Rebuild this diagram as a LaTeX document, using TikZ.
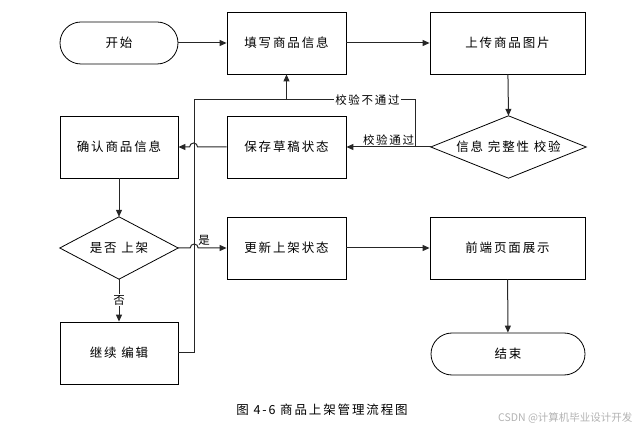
\documentclass[tikz,border=0pt]{standalone}
\usepackage{fontspec}
\setmainfont{Noto Sans CJK SC}[LetterSpace=15]
\newfontfamily\wmfont{Noto Sans CJK SC}
\usetikzlibrary{arrows.meta,calc}
\begin{document}
\begin{tikzpicture}[x=1pt,y=-1pt,
  box/.style={draw=black,line width=0.8pt,minimum height=62pt,inner sep=0pt,font=\fontsize{12.5}{14}\selectfont},
  term/.style={box,rounded corners=21pt,minimum height=42pt},
  dia/.style={minimum height=62pt,inner sep=0pt,font=\fontsize{12.5}{14}\selectfont},
  ln/.style={draw=black!85,line width=1pt},
  arr/.style={ln,-{Triangle[length=7pt,width=6pt]}},
  lab/.style={font=\fontsize{11.5}{13}\selectfont,inner sep=1pt}]
\useasboundingbox (0,0) rectangle (640,430);
\node[term,minimum width=118pt] (start) at (119,43) {开始};
\node[box,minimum width=119pt] (fill) at (286.5,43) {填写商品信息};
\node[box,minimum width=155pt] (upload) at (507.5,43) {上传商品图片};
\node[dia,minimum width=155pt] (check) at (508.5,147) {信息 完整性 校验};
\draw[line width=0.8pt] (check.north) -- (check.east) -- (check.south) -- (check.west) -- cycle;
\node[box,minimum width=119pt] (draft) at (286.5,147) {保存草稿状态};
\node[box,minimum width=118pt] (confirm) at (119,147) {确认商品信息};
\node[dia,minimum width=118pt] (dec) at (119,248) {是否 上架};
\draw[line width=0.8pt] (dec.north) -- (dec.east) -- (dec.south) -- (dec.west) -- cycle;
\node[box,minimum width=119pt] (upd) at (286.5,248) {更新上架状态};
\node[box,minimum width=155pt] (front) at (507.5,248) {前端页面展示};
\node[box,minimum width=118pt] (cont) at (119,353) {继续 编辑};
\node[term,minimum width=154pt] (end) at (508,354) {结束};
\coordinate (j1) at (415,147);
\coordinate (j2) at (415,100);
\coordinate (j3) at (286.5,100);
\coordinate (j4) at (194,100);
\coordinate (j5) at (194,353);
\draw[arr] (start) -- (fill);
\draw[arr] (fill) -- (upload);
\draw[arr] (upload) -- (check.north);
\draw[arr] (check.west) -- node[lab,above,pos=0.5] {校验通过} (draft.east);
\draw[ln] (j1) -- (j2) -- node[lab,fill=white,pos=0.37] {校验不通过} (j3);
\draw[arr] (j3) -- (fill.south);
\draw[ln] (cont.east) -- (j5) -- (j4) -- (j3);
\draw[arr] (draft.west) -- ++(-29,0) arc[start angle=0,end angle=180,radius=4pt] -- (confirm.east);
\draw[arr] (dec.east) -- ++(12,0) arc[start angle=180,end angle=0,radius=4pt] -- (upd.west);
\node[lab] (yes) at (204,240) {是};
\draw[arr] (confirm) -- (dec.north);
\draw[arr] (dec.south) -- node[lab,fill=white,pos=0.5] {否} (cont);
\draw[arr] (upd) -- (front);
\draw[arr] (front) -- (end);
\node[font=\fontsize{12.5}{14}\selectfont] (cap) at (322,410) {图 4-6 商品上架管理流程图};
\node[font=\wmfont\fontsize{10.5}{12}\selectfont,text=black!30,anchor=east] (wm) at (636,418) {CSDN @计算机毕业设计开发};
\end{tikzpicture}
\end{document}
